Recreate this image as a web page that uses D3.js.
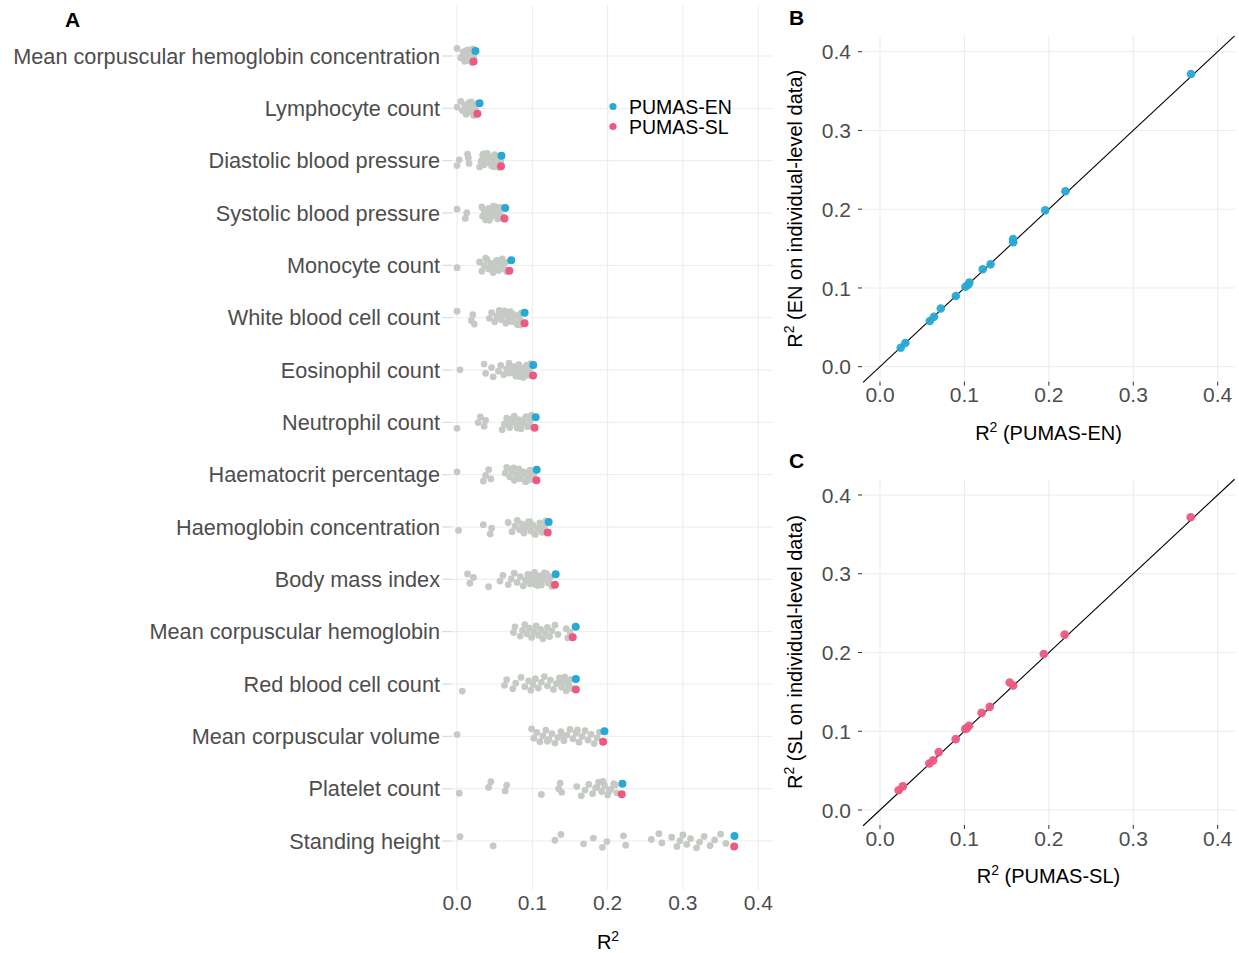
<!DOCTYPE html>
<html>
<head>
<meta charset="utf-8">
<script src="https://cdn.jsdelivr.net/npm/d3@7"></script>
<style>
	body { margin: 0; background: #fff; }
	svg { font-family: 'Liberation Sans', Arial, sans-serif; }
	.grid line { stroke: #ebebeb; stroke-width: 1; }
	.tick-label { fill: #4d4d4d; font-size: 21px; }
	.cat-label { fill: #4d4d4d; font-size: 21.7px; }
	.axis-title { fill: #000; font-size: 20px; }
	.panel-tag { font-size: 21px; font-weight: bold; fill: #000; }
</style>
</head>
<body>
<svg id="chart" width="1239" height="953"></svg>
<script>

const traits = [
	'Mean corpuscular hemoglobin concentration',
	'Lymphocyte count',
	'Diastolic blood pressure',
	'Systolic blood pressure',
	'Monocyte count',
	'White blood cell count',
	'Eosinophil count',
	'Neutrophil count',
	'Haematocrit percentage',
	'Haemoglobin concentration',
	'Body mass index',
	'Mean corpuscular hemoglobin',
	'Red blood cell count',
	'Mean corpuscular volume',
	'Platelet count',
	'Standing height'
]

// R2 from the two PUMAS ensembles
const enR2 = [0.0245, 0.030, 0.059, 0.064, 0.072, 0.0898, 0.1012, 0.1045, 0.1058, 0.1217, 0.131, 0.1576, 0.1578, 0.1957, 0.2196, 0.3684]
const slR2 = [0.022, 0.027, 0.0584, 0.063, 0.0695, 0.0897, 0.101, 0.103, 0.1054, 0.1204, 0.130, 0.1536, 0.1578, 0.194, 0.2187, 0.368]

// same models evaluated on individual-level data
const enIndiv = [0.0241, 0.030, 0.058, 0.0635, 0.074, 0.0898, 0.1016, 0.104, 0.107, 0.1237, 0.130, 0.162, 0.158, 0.1986, 0.2227, 0.3717]
const slIndiv = [0.025, 0.030, 0.059, 0.063, 0.0735, 0.090, 0.103, 0.104, 0.107, 0.1233, 0.131, 0.162, 0.158, 0.198, 0.2227, 0.3717]

// single PRS models (grey points)
const singleR2 = [
	[0.000, 0.005, 0.008, 0.010, 0.012, 0.014, 0.016, 0.018, 0.020, 0.022, 0.011, 0.015, 0.019, 0.021, 0.017],
	[0.000, 0.005, 0.007, 0.010, 0.012, 0.014, 0.016, 0.018, 0.020, 0.022, 0.024, 0.026, 0.028, 0.013, 0.019, 0.025, 0.021],
	[0.000, 0.003, 0.014, 0.016, 0.015, 0.030, 0.032, 0.034, 0.036, 0.038, 0.040, 0.042, 0.044, 0.046, 0.048, 0.050, 0.052, 0.054, 0.056, 0.058, 0.041, 0.047, 0.053, 0.035, 0.045, 0.055, 0.049],
	[0.000, 0.011, 0.013, 0.033, 0.034, 0.036, 0.038, 0.040, 0.042, 0.044, 0.046, 0.048, 0.050, 0.052, 0.054, 0.056, 0.058, 0.060, 0.037, 0.043, 0.049, 0.055, 0.039, 0.045, 0.051, 0.057],
	[0.000, 0.030, 0.033, 0.036, 0.040, 0.042, 0.045, 0.048, 0.050, 0.052, 0.055, 0.058, 0.060, 0.062, 0.064, 0.066, 0.046, 0.053, 0.057, 0.061, 0.038, 0.044],
	[0.000, 0.019, 0.021, 0.023, 0.043, 0.046, 0.050, 0.053, 0.056, 0.059, 0.062, 0.065, 0.068, 0.071, 0.074, 0.077, 0.080, 0.083, 0.085, 0.087, 0.055, 0.063, 0.069, 0.075, 0.081, 0.058, 0.066, 0.072, 0.078, 0.084],
	[0.004, 0.036, 0.038, 0.046, 0.048, 0.055, 0.058, 0.062, 0.066, 0.069, 0.072, 0.075, 0.078, 0.080, 0.082, 0.084, 0.086, 0.088, 0.090, 0.092, 0.094, 0.096, 0.098, 0.070, 0.076, 0.083, 0.089, 0.093, 0.097, 0.073],
	[0.000, 0.028, 0.031, 0.036, 0.038, 0.060, 0.063, 0.066, 0.070, 0.073, 0.076, 0.079, 0.082, 0.085, 0.088, 0.091, 0.094, 0.097, 0.099, 0.068, 0.074, 0.080, 0.086, 0.092, 0.096],
	[0.000, 0.035, 0.038, 0.042, 0.045, 0.064, 0.066, 0.070, 0.073, 0.076, 0.079, 0.082, 0.085, 0.088, 0.091, 0.094, 0.097, 0.100, 0.102, 0.075, 0.081, 0.087, 0.093, 0.099, 0.072, 0.084, 0.090],
	[0.002, 0.035, 0.044, 0.046, 0.068, 0.073, 0.077, 0.080, 0.083, 0.086, 0.089, 0.092, 0.095, 0.098, 0.101, 0.104, 0.107, 0.110, 0.113, 0.116, 0.118, 0.085, 0.094, 0.103, 0.109, 0.097],
	[0.014, 0.017, 0.022, 0.042, 0.057, 0.061, 0.068, 0.072, 0.076, 0.080, 0.084, 0.088, 0.091, 0.094, 0.097, 0.100, 0.103, 0.106, 0.109, 0.112, 0.115, 0.118, 0.121, 0.124, 0.126, 0.092, 0.098, 0.104, 0.110, 0.116, 0.122, 0.101, 0.107, 0.113, 0.119],
	[0.075, 0.077, 0.084, 0.087, 0.090, 0.093, 0.096, 0.099, 0.102, 0.105, 0.108, 0.111, 0.114, 0.117, 0.120, 0.123, 0.126, 0.130, 0.134, 0.145, 0.147, 0.150],
	[0.007, 0.063, 0.066, 0.074, 0.078, 0.085, 0.090, 0.095, 0.098, 0.101, 0.104, 0.108, 0.112, 0.116, 0.120, 0.124, 0.128, 0.132, 0.136, 0.139, 0.142, 0.145, 0.148, 0.151, 0.153, 0.137, 0.143, 0.149, 0.146],
	[0.000, 0.099, 0.102, 0.106, 0.110, 0.114, 0.118, 0.122, 0.126, 0.130, 0.134, 0.138, 0.142, 0.146, 0.150, 0.154, 0.158, 0.162, 0.166, 0.170, 0.174, 0.178, 0.182, 0.186, 0.189, 0.120, 0.141, 0.160],
	[0.003, 0.042, 0.045, 0.064, 0.066, 0.112, 0.135, 0.137, 0.139, 0.159, 0.165, 0.170, 0.175, 0.180, 0.184, 0.188, 0.192, 0.196, 0.200, 0.204, 0.208, 0.212, 0.186, 0.194, 0.202, 0.210],
	[0.004, 0.048, 0.130, 0.138, 0.168, 0.181, 0.193, 0.199, 0.221, 0.224, 0.258, 0.268, 0.272, 0.285, 0.292, 0.296, 0.300, 0.305, 0.310, 0.318, 0.322, 0.328, 0.336, 0.342, 0.350, 0.357]
]

const ticks = [0, 0.1, 0.2, 0.3, 0.4]
const tickLabels = ['0.0', '0.1', '0.2', '0.3', '0.4']
const seriesNames = ['PUMAS-EN', 'PUMAS-SL']

const blue = '#27a9d3'
const pink = '#ec5a82'
const grey = '#c6cac4'

const svg = d3.select('#chart')

const r2Title = (sel, rest) => {
	sel.append('tspan').text('R')
	sel.append('tspan').attr('dy', -8).attr('font-size', '14px').text('2')
	if (rest) sel.append('tspan').attr('dy', 8).text(' ' + rest)
}

// ---------- panel A ----------
const a = { left: 443, right: 773, top: 5, bottom: 890 }

const xA = d3.scaleLinear().domain([0, 0.4]).range([457, 758.3])
const yA = d3.scalePoint().domain(traits).range([56, 841])

const gA = svg.append('g')

gA.append('g').attr('class', 'grid')
	.selectAll('line.v')
	.data(ticks)
	.enter()
	.append('line')
	.attr('x1', d => xA(d)).attr('x2', d => xA(d))
	.attr('y1', a.top).attr('y2', a.bottom)

gA.append('g').attr('class', 'grid')
	.selectAll('line.h')
	.data(traits)
	.enter()
	.append('line')
	.attr('x1', a.left).attr('x2', a.right)
	.attr('y1', d => yA(d)).attr('y2', d => yA(d))

// y ticks + labels
gA.selectAll('.ytick')
	.data(traits)
	.enter()
	.append('line')
	.attr('x1', a.left - 1).attr('x2', a.left + 9)
	.attr('y1', d => yA(d)).attr('y2', d => yA(d))
	.attr('stroke', '#d9d9d9')

gA.selectAll('.ylab')
	.data(traits)
	.enter()
	.append('text')
	.attr('class', 'cat-label')
	.attr('x', 440)
	.attr('y', d => yA(d))
	.attr('dy', '0.36em')
	.attr('text-anchor', 'end')
	.text(d => d)

gA.selectAll('.xlab')
	.data(ticks)
	.enter()
	.append('text')
	.attr('class', 'tick-label')
	.attr('x', d => xA(d))
	.attr('y', 902)
	.attr('dy', '0.36em')
	.attr('text-anchor', 'middle')
	.text((d, i) => tickLabels[i])

gA.append('text')
	.attr('class', 'axis-title')
	.attr('x', (a.left + a.right) / 2)
	.attr('y', 949)
	.attr('text-anchor', 'middle')
	.call(r2Title)

// grey points, jittered vertically
const jitter = (i, j) => (((i * 0.6180339887 + j * 0.4142) % 1) - 0.5) * 15

singleR2.forEach((vals, j) => {
	gA.append('g')
		.selectAll('circle')
		.data(vals)
		.enter()
		.append('circle')
		.attr('cx', d => xA(d))
		.attr('cy', (d, i) => yA(traits[j]) + jitter(i, j))
		.attr('r', 3.4)
		.attr('fill', grey)
})

gA.append('g')
	.selectAll('circle')
	.data(enR2)
	.enter()
	.append('circle')
	.attr('cx', d => xA(d))
	.attr('cy', (d, i) => yA(traits[i]) - 5)
	.attr('r', 4)
	.attr('fill', blue)

gA.append('g')
	.selectAll('circle')
	.data(slR2)
	.enter()
	.append('circle')
	.attr('cx', d => xA(d))
	.attr('cy', (d, i) => yA(traits[i]) + 5.5)
	.attr('r', 4)
	.attr('fill', pink)

// legend
const legend = gA.append('g')
	.selectAll('g')
	.data(seriesNames)
	.enter()
	.append('g')
	.attr('transform', (d, i) => `translate(613, ${106.5 + i * 20})`)

legend.append('circle').attr('r', 3.6).attr('fill', (d, i) => i ? pink : blue)
legend.append('text')
	.attr('x', 16)
	.attr('dy', '0.36em')
	.attr('font-size', '19.5px')
	.attr('fill', '#000')
	.text(d => d)

svg.append('text').attr('class', 'panel-tag').attr('x', 65).attr('y', 27).text('A')

// ---------- panels B and C ----------
const scatter = (cfg) => {

	const x = d3.scaleLinear().domain([0, 0.4]).range([880, 1217.7])
	const y = d3.scaleLinear().domain([0, 0.4]).range([cfg.y0, cfg.y0 - 315])
	const left = 862, right = 1235
	const top = y(0.42), bottom = y(-0.019)

	const g = svg.append('g')

	g.append('g').attr('class', 'grid')
		.selectAll('line')
		.data(ticks)
		.enter()
		.append('line')
		.attr('x1', d => x(d)).attr('x2', d => x(d))
		.attr('y1', top).attr('y2', bottom)

	g.append('g').attr('class', 'grid')
		.selectAll('line')
		.data(ticks)
		.enter()
		.append('line')
		.attr('x1', left).attr('x2', right)
		.attr('y1', d => y(d)).attr('y2', d => y(d))

	// axis ticks
	g.selectAll('.xt')
		.data(ticks)
		.enter()
		.append('line')
		.attr('x1', d => x(d)).attr('x2', d => x(d))
		.attr('y1', bottom).attr('y2', bottom + 4)
		.attr('stroke', '#333')

	g.selectAll('.yt')
		.data(ticks)
		.enter()
		.append('line')
		.attr('x1', left - 4).attr('x2', left)
		.attr('y1', d => y(d)).attr('y2', d => y(d))
		.attr('stroke', '#333')

	g.selectAll('.xl')
		.data(ticks)
		.enter()
		.append('text')
		.attr('class', 'tick-label')
		.attr('x', d => x(d))
		.attr('y', bottom + 13)
		.attr('dy', '0.36em')
		.attr('text-anchor', 'middle')
		.text((d, i) => tickLabels[i])

	g.selectAll('.yl')
		.data(ticks)
		.enter()
		.append('text')
		.attr('class', 'tick-label')
		.attr('x', 851)
		.attr('y', d => y(d))
		.attr('dy', '0.36em')
		.attr('text-anchor', 'end')
		.text((d, i) => tickLabels[i])

	// identity line
	g.append('path')
		.datum([-0.02, 0.42])
		.attr('d', d3.line().x(d => x(d)).y(d => y(d)))
		.attr('stroke', '#000')
		.attr('stroke-width', 1.1)
		.attr('fill', 'none')

	g.append('g')
		.selectAll('circle')
		.data(cfg.xs)
		.enter()
		.append('circle')
		.attr('cx', d => x(d))
		.attr('cy', (d, i) => y(cfg.ys[i]))
		.attr('r', 4.3)
		.attr('fill', cfg.color)
		.attr('fill-opacity', 0.95)

	g.append('text')
		.attr('class', 'axis-title')
		.attr('x', (left + right) / 2)
		.attr('y', bottom + 58)
		.attr('text-anchor', 'middle')
		.call(r2Title, cfg.xTitle)

	g.append('text')
		.attr('class', 'axis-title')
		.attr('transform', `translate(802, ${(top + bottom) / 2}) rotate(-90)`)
		.attr('text-anchor', 'middle')
		.call(r2Title, cfg.yTitle)

	svg.append('text').attr('class', 'panel-tag').attr('x', 789).attr('y', top - 11).text(cfg.tag)
}

scatter({ y0: 366.7, xs: enR2, ys: enIndiv, color: blue, tag: 'B',
	xTitle: '(PUMAS-EN)', yTitle: '(EN on individual-level data)' })

scatter({ y0: 810, xs: slR2, ys: slIndiv, color: pink, tag: 'C',
	xTitle: '(PUMAS-SL)', yTitle: '(SL on individual-level data)' })

</script>
</body>
</html>
